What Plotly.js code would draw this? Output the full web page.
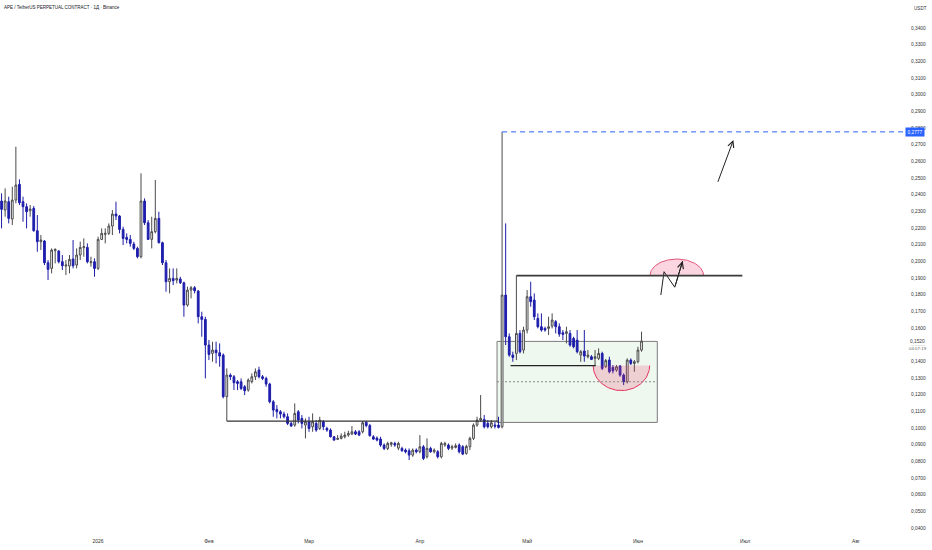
<!DOCTYPE html>
<html><head><meta charset="utf-8">
<script src="https://cdn.plot.ly/plotly-3.0.1.min.js"></script>
<style>html,body{margin:0;padding:0;background:#fff}#chart{width:932px;height:550px}</style>
</head><body><div id="chart"></div>
<script>
// ---- data ----
const firstDate = '2025-12-05';
const openP = [0.2362,0.2308,0.2358,0.2254,0.2368,0.2462,0.2358,0.2328,0.2304,0.2318,
0.2184,0.2118,0.2122,0.1992,0.1958,0.2064,0.2062,0.1998,0.1972,0.1972,
0.2014,0.1978,0.2038,0.2082,0.2084,0.1992,0.1998,0.1958,0.2132,0.2162,
0.2168,0.2212,0.2284,0.2272,0.2192,0.2144,0.2132,0.2104,0.2078,0.2028,
0.2362,0.2232,0.2132,0.2178,0.2258,0.2112,0.1992,0.1878,0.1898,0.1888,
0.1894,0.1872,0.1738,0.1828,0.1842,0.1822,0.1668,0.1652,0.1498,0.1448,
0.1468,0.1452,0.1438,0.1188,0.1318,0.1308,0.1278,0.1278,0.1248,0.1228,
0.1278,0.1308,0.1348,0.1308,0.1298,0.1264,0.1158,0.1112,0.1098,0.1084,
0.1068,0.1028,0.1018,0.1098,0.1058,0.1018,0.1038,0.1008,0.1028,0.0998,
0.1038,0.0998,0.0988,0.0948,0.0932,0.0938,0.0948,0.0958,0.0964,0.0978,
0.0978,0.0978,0.1035,0.1015,0.0948,0.0940,0.0934,0.0898,0.0878,0.0902,
0.0908,0.0880,0.0878,0.0868,0.0864,0.0838,0.0868,0.0858,0.0888,0.0828,
0.0878,0.0858,0.0858,0.0828,0.0898,0.0898,0.0880,0.0884,0.0898,0.0888,
0.0848,0.0888,0.0938,0.1018,0.1048,0.1052,0.1028,0.1008,0.1018,0.1018,
0.1008,0.1798,0.1548,0.1438,0.1448,0.1568,0.1468,0.1588,0.1788,0.1768,
0.1658,0.1608,0.1598,0.1598,0.1612,0.1638,0.1608,0.1572,0.1568,0.1568,
0.1538,0.1528,0.1438,0.1462,0.1428,0.1428,0.1418,0.1418,0.1448,0.1370,
0.1408,0.1364,0.1348,0.1372,0.1318,0.1278,0.1408,0.1388,0.1398,0.1468];
const highP = [0.2408,0.2438,0.2388,0.2448,0.2688,0.2492,0.2388,0.2348,0.2338,0.2332,
0.2278,0.2158,0.2128,0.2008,0.2078,0.2078,0.2068,0.2038,0.2008,0.2038,
0.2128,0.2078,0.2118,0.2138,0.2108,0.2028,0.2018,0.2148,0.2198,0.2198,
0.2228,0.2308,0.2358,0.2278,0.2208,0.2168,0.2158,0.2118,0.2088,0.2528,
0.2378,0.2248,0.2268,0.2488,0.2298,0.2118,0.2008,0.1958,0.1958,0.1958,
0.1908,0.1878,0.1848,0.1852,0.1852,0.1828,0.1698,0.1668,0.1528,0.1518,
0.1518,0.1508,0.1448,0.1358,0.1328,0.1318,0.1288,0.1298,0.1258,0.1298,
0.1328,0.1358,0.1368,0.1318,0.1308,0.1272,0.1168,0.1138,0.1108,0.1098,
0.1088,0.1038,0.1148,0.1108,0.1078,0.1058,0.1068,0.1088,0.1048,0.1068,
0.1048,0.1008,0.0998,0.0952,0.0958,0.0968,0.0978,0.0984,0.1012,0.0988,
0.0988,0.1042,0.1042,0.1025,0.0958,0.0950,0.0948,0.0908,0.0918,0.0918,
0.0918,0.0918,0.0888,0.0878,0.0878,0.0878,0.0878,0.0958,0.0898,0.0938,
0.0888,0.0878,0.0868,0.0918,0.0918,0.0908,0.0900,0.0908,0.0908,0.0898,
0.0900,0.0948,0.1028,0.1068,0.1198,0.1078,0.1048,0.1048,0.1038,0.1068,
0.2777,0.2228,0.1568,0.1458,0.1915,0.1588,0.1608,0.1828,0.1878,0.1808,
0.1688,0.1688,0.1608,0.1668,0.1688,0.1648,0.1628,0.1588,0.1608,0.1588,
0.1548,0.1588,0.1468,0.1588,0.1468,0.1438,0.1468,0.1478,0.1458,0.1415,
0.1428,0.1378,0.1378,0.1378,0.1328,0.1418,0.1418,0.1408,0.1488,0.1578];
const lowP = [0.2198,0.2268,0.2228,0.2218,0.2348,0.2338,0.2238,0.2198,0.2268,0.2178,
0.2058,0.2068,0.1978,0.1888,0.1928,0.1988,0.1988,0.1948,0.1918,0.1928,
0.1958,0.1958,0.2008,0.2028,0.1988,0.1968,0.1908,0.1948,0.2128,0.2108,
0.2158,0.2158,0.2248,0.2168,0.2098,0.2108,0.2088,0.2068,0.2018,0.2018,
0.2218,0.2128,0.2078,0.2168,0.2108,0.1978,0.1818,0.1808,0.1858,0.1868,
0.1864,0.1668,0.1728,0.1778,0.1808,0.1628,0.1548,0.1298,0.1408,0.1398,
0.1388,0.1368,0.1178,0.1042,0.1288,0.1228,0.1228,0.1228,0.1198,0.1218,
0.1268,0.1288,0.1298,0.1288,0.1248,0.1148,0.1068,0.1058,0.1058,0.1058,
0.1018,0.1008,0.1008,0.1028,0.0998,0.0938,0.0978,0.0978,0.0978,0.0988,
0.0988,0.0978,0.0944,0.0924,0.0928,0.0932,0.0938,0.0948,0.0958,0.0958,
0.0952,0.0968,0.1005,0.0948,0.0928,0.0920,0.0888,0.0868,0.0868,0.0888,
0.0888,0.0868,0.0858,0.0848,0.0808,0.0828,0.0848,0.0848,0.0808,0.0818,
0.0852,0.0848,0.0818,0.0818,0.0888,0.0868,0.0868,0.0878,0.0848,0.0838,
0.0840,0.0868,0.0928,0.1008,0.1038,0.0998,0.0998,0.0998,0.0998,0.0998,
0.0998,0.1498,0.1428,0.1398,0.1408,0.1448,0.1448,0.1568,0.1728,0.1648,
0.1598,0.1578,0.1578,0.1558,0.1598,0.1568,0.1548,0.1528,0.1508,0.1488,
0.1478,0.1448,0.1398,0.1398,0.1418,0.1408,0.1378,0.1408,0.1348,0.1360,
0.1328,0.1328,0.1338,0.1308,0.1258,0.1268,0.1378,0.1338,0.1388,0.1458];
const closeP = [0.2312,0.2362,0.2258,0.2368,0.2458,0.2352,0.2328,0.2298,0.2314,0.2184,
0.2118,0.2128,0.1992,0.1952,0.2068,0.2072,0.1998,0.1974,0.1978,0.2012,
0.1974,0.2038,0.2084,0.2088,0.1998,0.1998,0.1958,0.2132,0.2168,0.2168,
0.2212,0.2284,0.2272,0.2192,0.2138,0.2132,0.2108,0.2078,0.2028,0.2362,
0.2232,0.2132,0.2178,0.2258,0.2112,0.1992,0.1878,0.1898,0.1884,0.1898,
0.1872,0.1738,0.1828,0.1842,0.1824,0.1668,0.1652,0.1498,0.1442,0.1468,
0.1452,0.1432,0.1188,0.1318,0.1308,0.1272,0.1268,0.1238,0.1224,0.1288,
0.1308,0.1338,0.1308,0.1298,0.1264,0.1158,0.1108,0.1098,0.1084,0.1068,
0.1028,0.1012,0.1088,0.1048,0.1028,0.1038,0.0998,0.1038,0.0988,0.1048,
0.1008,0.0988,0.0948,0.0928,0.0938,0.0952,0.0958,0.0968,0.0978,0.0964,
0.0958,0.1032,0.1015,0.0955,0.0934,0.0928,0.0898,0.0878,0.0908,0.0912,
0.0898,0.0908,0.0864,0.0858,0.0838,0.0868,0.0858,0.0888,0.0818,0.0878,
0.0858,0.0868,0.0828,0.0908,0.0908,0.0878,0.0888,0.0894,0.0858,0.0844,
0.0890,0.0938,0.1018,0.1048,0.1058,0.1008,0.1008,0.1032,0.1012,0.1004,
0.1798,0.1548,0.1438,0.1424,0.1568,0.1458,0.1588,0.1788,0.1758,0.1668,
0.1608,0.1588,0.1588,0.1608,0.1648,0.1608,0.1564,0.1562,0.1578,0.1498,
0.1488,0.1458,0.1458,0.1432,0.1438,0.1412,0.1428,0.1448,0.1358,0.1405,
0.1338,0.1344,0.1368,0.1318,0.1278,0.1408,0.1388,0.1398,0.1468,0.1522];

const monthTickDates = ['2026-01-01','2026-02-01','2026-03-01','2026-04-01','2026-05-01','2026-06-01','2026-07-01','2026-08-01'];
const monthTickLabels = ['2026','Фев','Мар','Апр','Май','Июн','Июл','Авг'];
const priceTicks = [0.04,0.05,0.06,0.07,0.08,0.09,0.10,0.11,0.12,0.13,0.14,0.15,0.16,0.17,0.18,0.19,0.20,0.21,0.22,0.23,0.24,0.25,0.26,0.27,0.28,0.29,0.30,0.31,0.32,0.33,0.34];
const titleText = 'APE / TetherUS PERPETUAL CONTRACT · 1Д · Binance';
const lastPrice = 0.1520, lastPriceText = '0,1520', countdownText = '04:07:19';
const targetPrice = 0.2777, targetText = '0,2777';

// drawing anchors (data units)
const supportLine = {x0:'2026-02-06', x1:'2026-04-23', y:0.1042};
const resistLine = {x0:'2026-04-28', x1:'2026-06-30 05:00', y:0.1915};
const lowerLine = {x0:'2026-04-26 09:00', x1:'2026-05-20 05:00', y:0.1375};
const zoneBox = {x0:'2026-04-22 14:00', x1:'2026-06-06 10:00', y0:0.1034, y1:0.1520, mid:0.1278};
const targetStart = '2026-04-24';
const bowl = {cx:'2026-05-27 09:00', rxDays:7.9, cy:0.1375, ry:-0.0150};
const dome = {cx:'2026-06-11 20:40', rxDays:7.48, cy:0.1915, ry:0.0099};
const zigX = ['2026-06-07 09:36','2026-06-08 07:12','2026-06-11 07:12'];
const zigY = [0.1798,0.1938,0.1845];
const zigHead = {x:'2026-06-13 12:00', y:0.2002};
const bigArrow = {ax:'2026-06-23 04:48', ay:0.2468, x:'2026-06-27 16:48', y:0.2728};
const xRange = ['2025-12-04 13:30','2026-08-14 10:00'];
const yRange = [0.03766, 0.3568];

// ---- build ----
const DAY = 86400000;
const t0 = Date.parse(firstDate + 'T00:00:00Z');
function msToStr(ms){ return new Date(ms).toISOString().replace('T',' ').slice(0,19); }
function strToMs(s){ return Date.parse(s.replace(' ','T') + (s.length>10?'':'T00:00') + 'Z'); }
const dates = openP.map((_, i) => msToStr(t0 + i*DAY).slice(0,10));

function halfEllipse(h){
  const c = strToMs(h.cx), xs=[], ys=[];
  for (let k=0;k<=60;k++){
    const t = Math.PI*k/60;
    xs.push(msToStr(c - Math.cos(t)*h.rxDays*DAY));
    ys.push(h.cy + Math.sin(t)*h.ry);
  }
  return {xs, ys};
}
const b = halfEllipse(bowl), d = halfEllipse(dome);

const font = 'Liberation Sans, Arial, sans-serif';
const traces = [
  {type:'candlestick', x:dates, open:openP, high:highP, low:lowP, close:closeP,
   increasing:{line:{color:'#4a4a4a', width:1}, fillcolor:'#ffffff'},
   decreasing:{line:{color:'#1d1da8', width:1}, fillcolor:'#1f1fb8'},
   whiskerwidth:0, hoverinfo:'skip', showlegend:false},
  {type:'scatter', mode:'lines', x:b.xs, y:b.ys, fill:'toself', fillcolor:'rgba(236,64,110,0.22)',
   line:{color:'#e3345e', width:1}, hoverinfo:'skip', showlegend:false},
  {type:'scatter', mode:'lines', x:d.xs, y:d.ys, fill:'toself', fillcolor:'rgba(236,64,110,0.22)',
   line:{color:'#e3557c', width:1}, hoverinfo:'skip', showlegend:false},
  {type:'scatter', mode:'lines', x:zigX.concat([zigHead.x]), y:zigY.concat([zigHead.y]),
   line:{color:'#222', width:1}, hoverinfo:'skip', showlegend:false}
];

const shapes = [
  {type:'rect', xref:'x', yref:'y', x0:zoneBox.x0, x1:zoneBox.x1, y0:zoneBox.y0, y1:zoneBox.y1,
   fillcolor:'rgba(76,175,80,0.09)', line:{color:'#7a7a7a', width:1}, layer:'below'},
  {type:'line', xref:'x', yref:'y', x0:zoneBox.x0, x1:zoneBox.x1, y0:zoneBox.mid, y1:zoneBox.mid,
   line:{color:'#8a8a8a', width:1, dash:'2px,2px'}},
  {type:'line', xref:'x', yref:'y', x0:supportLine.x0, x1:supportLine.x1, y0:supportLine.y, y1:supportLine.y,
   line:{color:'#333', width:1.3}},
  {type:'line', xref:'x', yref:'y', x0:resistLine.x0, x1:resistLine.x1, y0:resistLine.y, y1:resistLine.y,
   line:{color:'#3a3a3a', width:1.8}},
  {type:'line', xref:'x', yref:'y', x0:lowerLine.x0, x1:lowerLine.x1, y0:lowerLine.y, y1:lowerLine.y,
   line:{color:'#222', width:1.3}},
  {type:'line', xref:'x', yref:'y', x0:targetStart, x1:xRange[1], y0:targetPrice, y1:targetPrice,
   line:{color:'#2962ff', width:1, dash:'5px,4px'}}
];

const annotations = [
  {xref:'paper', yref:'paper', x:0, y:1, xanchor:'left', yanchor:'middle', xshift:2, yshift:-7,
   text:titleText, showarrow:false, font:{family:font, size:4.5, color:'#131722'}},
  {xref:'paper', yref:'paper', x:1, y:1, xanchor:'left', yanchor:'middle', xshift:8, yshift:-8,
   text:'USDT', showarrow:false, font:{family:font, size:4.6, color:'#333'}},
  {xref:'paper', yref:'y', x:1, y:targetPrice, xanchor:'left', yanchor:'middle', xshift:1,
   text:targetText, showarrow:false, bgcolor:'#2962ff', borderpad:1.5, font:{family:font, size:4.8, color:'#ffffff'}},
  {xref:'paper', yref:'y', x:1, y:lastPrice, xanchor:'left', yanchor:'middle', xshift:4,
   text:lastPriceText, showarrow:false, bgcolor:'#ffffff', borderpad:1, font:{family:font, size:4.8, color:'#333'}},
  {xref:'paper', yref:'y', x:1, y:lastPrice, xanchor:'left', yanchor:'middle', xshift:4, yshift:-7,
   text:countdownText, showarrow:false, bgcolor:'#ffffff', borderpad:0, font:{family:font, size:4.4, color:'#666'}},
  {xref:'x', yref:'y', axref:'x', ayref:'y', x:zigHead.x, y:zigHead.y, ax:zigX[2], ay:zigY[2],
   text:'', showarrow:true, arrowhead:5, arrowsize:1.2, arrowwidth:1, arrowcolor:'#222'},
  {xref:'x', yref:'y', axref:'x', ayref:'y', x:bigArrow.x, y:bigArrow.y, ax:bigArrow.ax, ay:bigArrow.ay,
   text:'', showarrow:true, arrowhead:5, arrowsize:1.2, arrowwidth:1, arrowcolor:'#222'}
];

const layout = {
  width:932, height:550,
  margin:{l:0, r:28, t:0, b:18, pad:0},
  paper_bgcolor:'#ffffff', plot_bgcolor:'#ffffff',
  separators:', ',
  showlegend:false, hovermode:false,
  font:{family:font, size:5, color:'#333'},
  xaxis:{type:'date', range:xRange, showgrid:false, zeroline:false, showline:false,
         tickmode:'array', tickvals:monthTickDates, ticktext:monthTickLabels,
         ticks:'', ticklabelstandoff:5, tickfont:{family:font, size:5, color:'#333'},
         rangeslider:{visible:false}, fixedrange:true},
  yaxis:{side:'right', range:yRange, showgrid:false, zeroline:false, showline:false,
         tickmode:'array', tickvals:priceTicks, tickformat:'.4f', ticks:'',
         ticklabelstandoff:6,
         tickfont:{family:font, size:4.8, color:'#333'}, fixedrange:true},
  shapes, annotations
};

Plotly.newPlot('chart', traces, layout, {staticPlot:true, displayModeBar:false});
</script>
</body></html>
